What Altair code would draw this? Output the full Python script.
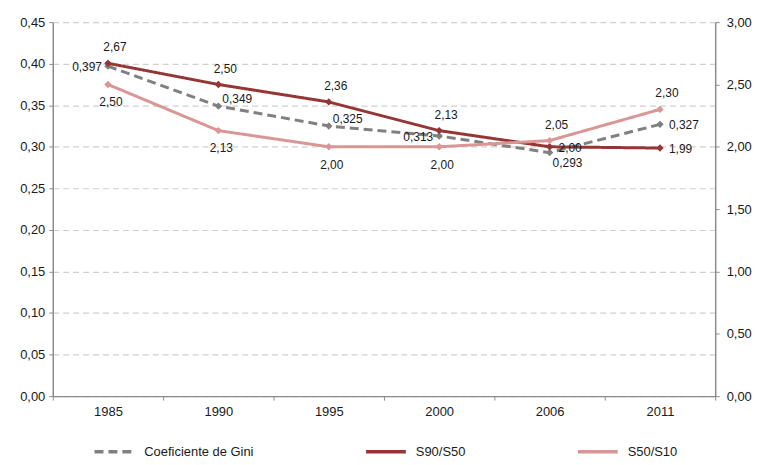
import altair as alt
import pandas as pd

years = ["1985", "1990", "1995", "2000", "2006", "2011"]
gini = [0.397, 0.349, 0.325, 0.313, 0.293, 0.327]
s90_s50 = [2.67, 2.50, 2.36, 2.13, 2.00, 1.99]
s50_s10 = [2.50, 2.13, 2.00, 2.00, 2.05, 2.30]

# label placement keywords (like spreadsheet label positions)
gini_label_pos = ["left", "above-right", "above-right", "left", "below-right", "right"]
s90_label_pos = ["above", "above", "above", "above", "right", "right"]
s10_label_pos = ["below", "below", "below", "below", "above", "above"]

series_names = ["Coeficiente de Gini", "S90/S50", "S50/S10"]
series_colors = ["#808080", "#943634", "#d99694"]
left_ticks = [0, 0.05, 0.10, 0.15, 0.20, 0.25, 0.30, 0.35, 0.40, 0.45]
right_ticks = [0, 0.5, 1.0, 1.5, 2.0, 2.5, 3.0]


def fmt(v, d):
    return f"{v:.{d}f}".replace(".", ",")


gini_df = pd.DataFrame({
    "year": years, "series": series_names[0], "value": gini,
    "pos": gini_label_pos, "label": [fmt(v, 3) for v in gini]})
ratio_df = pd.concat([
    pd.DataFrame({"year": years, "series": series_names[1], "value": s90_s50,
                  "pos": s90_label_pos, "label": [fmt(v, 2) for v in s90_s50]}),
    pd.DataFrame({"year": years, "series": series_names[2], "value": s50_s10,
                  "pos": s10_label_pos, "label": [fmt(v, 2) for v in s50_s10]}),
], ignore_index=True)

placements = {
    "left": dict(dx=-6, dy=1, align="right"),
    "right": dict(dx=9, dy=1, align="left"),
    "above": dict(dx=7, dy=-16, align="center"),
    "below": dict(dx=3, dy=18, align="center"),
    "above-right": dict(dx=4, dy=-7, align="left"),
    "below-right": dict(dx=3, dy=10, align="left"),
}

FONT = "Liberation Sans"
TXT = "#1a1a1a"
AX = "#8c8c8c"

x_enc = alt.X(
    "year:N", sort=years, bandPosition=0.5,
    scale=alt.Scale(type="band", paddingInner=0, paddingOuter=0),
    axis=alt.Axis(title=None, labelAngle=0, tickBand="extent", domainColor=AX,
                  domainWidth=1.5, tickColor=AX, tickSize=4, labelFont=FONT,
                  labelFontSize=13, labelColor=TXT, labelPadding=5, grid=False),
)

y_left = alt.Y(
    "value:Q", title=None,
    scale=alt.Scale(domain=[0, 0.45], nice=False, zero=True),
    axis=alt.Axis(values=left_ticks, orient="left",
                  labelExpr="replace(format(datum.value, '.2f'), '.', ',')",
                  grid=True, gridDash=[6, 4], gridColor="#d0d0d0", gridWidth=1.2,
                  domainColor=AX, domainWidth=1.5, tickColor=AX, tickSize=4,
                  labelFont=FONT, labelFontSize=13, labelColor=TXT, labelPadding=4),
)
y_right = alt.Y(
    "value:Q", title=None,
    scale=alt.Scale(domain=[0, 3], nice=False, zero=True),
    axis=alt.Axis(values=right_ticks, orient="right",
                  labelExpr="replace(format(datum.value, '.2f'), '.', ',')",
                  grid=False, domainColor=AX, domainWidth=1.5, tickColor=AX,
                  tickSize=4, labelFont=FONT, labelFontSize=13, labelColor=TXT,
                  labelPadding=7),
)

legend = alt.Legend(
    title=None, orient="none", direction="horizontal", legendX=40, legendY=425,
    symbolType="stroke", symbolSize=1600, symbolStrokeWidth=3.5, clipHeight=14,
    labelFont=FONT, labelFontSize=13, labelColor=TXT, labelOffset=8,
    columnPadding=111,
)
color_enc = alt.Color("series:N", scale=alt.Scale(domain=series_names, range=series_colors),
                      legend=legend)
dash_enc = alt.StrokeDash("series:N",
                          scale=alt.Scale(domain=series_names, range=[[9, 5], [1, 0], [1, 0]]),
                          legend=legend)


def text_layers(df, y):
    layers = []
    for key, p in placements.items():
        if key not in set(df["pos"]):
            continue
        layers.append(
            alt.Chart(df).transform_filter(alt.datum.pos == key)
            .mark_text(font=FONT, fontSize=12, color=TXT, dx=p["dx"], dy=p["dy"],
                       align=p["align"], baseline="middle")
            .encode(x=x_enc, y=y, text="label:N")
        )
    return layers


marker = alt.OverlayMarkDef(shape="diamond", size=55, filled=True)

gini_line = alt.Chart(gini_df).mark_line(strokeWidth=3, point=marker).encode(
    x=x_enc, y=y_left, color=color_enc, strokeDash=dash_enc)
left = alt.layer(gini_line, *text_layers(gini_df, y_left))

ratio_line = alt.Chart(ratio_df).mark_line(strokeWidth=3, point=marker).encode(
    x=x_enc, y=y_right, color=color_enc, strokeDash=dash_enc)
right = alt.layer(ratio_line, *text_layers(ratio_df, y_right))

chart = (
    alt.layer(left, right)
    .resolve_scale(y="independent")
    .properties(
        width=666, height=376,
        padding={"left": 11, "top": 7, "right": 0, "bottom": 0},
        background="white",
    )
    .configure_view(stroke=None)
)

chart.save("out.html", embed_options={"renderer": "svg", "actions": False})
